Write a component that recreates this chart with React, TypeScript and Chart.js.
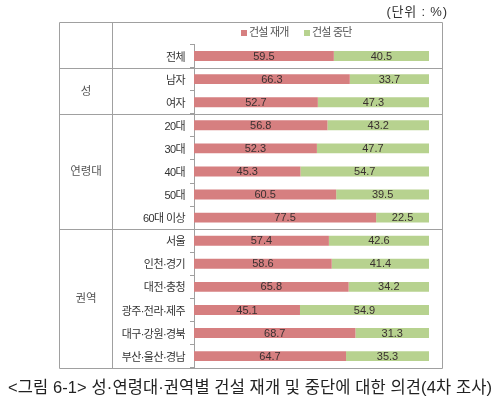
import React, { useEffect, useRef } from "react";
import { Chart, registerables } from "chart.js";

Chart.register(...registerables);

const categories = [
  "전체",
  "남자",
  "여자",
  "20대",
  "30대",
  "40대",
  "50대",
  "60대 이상",
  "서울",
  "인천·경기",
  "대전·충청",
  "광주·전라·제주",
  "대구·강원·경북",
  "부산·울산·경남",
];
const resumeValues = [59.5, 66.3, 52.7, 56.8, 52.3, 45.3, 60.5, 77.5, 57.4, 58.6, 65.8, 45.1, 68.7, 64.7];
const stopValues = [40.5, 33.7, 47.3, 43.2, 47.7, 54.7, 39.5, 22.5, 42.6, 41.4, 34.2, 54.9, 31.3, 35.3];
const seriesNames = ["건설 재개", "건설 중단"];
const groupLabels = ["", "성", "연령대", "권역"];
const groupStarts = [0, 1, 3, 8];
const groupEnds = [0, 2, 7, 13];
const unitText = "(단위 : %)";
const captionText = "<그림 6-1> 성·연령대·권역별 건설 재개 및 중단에 대한 의견(4차 조사)";

const RED = "#D67F80";
const GREEN = "#B7D28F";
const LINE = "#A0A0A0";
const KR = "'Liberation Sans', 'Noto Sans CJK KR', sans-serif";
const NUM = "'Liberation Sans', Arial, sans-serif";

const drawSpaced = (ctx: any, text: string, x: number, y: number, spacing: number, align: string) => {
  ctx.letterSpacing = `${spacing}px`;
  const w = ctx.measureText(text).width - spacing;
  let sx = x;
  if (align === "center") sx = x - w / 2;
  else if (align === "right") sx = x - w;
  ctx.textAlign = "left";
  ctx.fillText(text, sx, y);
  ctx.letterSpacing = "0px";
};

const tablePlugin = {
  id: "tableDecor",
  beforeDraw(chart: any) {
    // tighten the category tick labels (drawn before the datasets)
    chart.ctx.letterSpacing = "-0.6px";
  },
  beforeDatasetsDraw(chart: any) {
    chart.ctx.letterSpacing = "0px";
  },
  afterDatasetsDraw(chart: any) {
    const ctx = chart.ctx;
    ctx.save();
    ctx.letterSpacing = "0px";
    ctx.fillStyle = "#3a3030";
    ctx.font = `11px ${NUM}`;
    ctx.textAlign = "center";
    ctx.textBaseline = "middle";
    chart.data.datasets.forEach((ds: any, di: number) => {
      const meta = chart.getDatasetMeta(di);
      meta.data.forEach((el: any, i: number) => {
        const v = ds.data[i];
        const cx = (el.x + el.base) / 2;
        ctx.fillText(v.toFixed(1), cx, el.y + 0.5);
      });
    });
    ctx.restore();
  },
  afterDraw(chart: any) {
    const ctx = chart.ctx;
    const y = chart.scales.y;
    const area = chart.chartArea;
    const left = 59.5;
    const right = 442.5;
    const colX = 112.5;
    const top = 22.5;
    const bottom = Math.round(area.bottom) + 0.5;
    const boundary = (i: number) =>
      Math.round((y.getPixelForValue(i - 1) + y.getPixelForValue(i)) / 2) + 0.5;

    ctx.save();
    ctx.letterSpacing = "0px";
    ctx.strokeStyle = LINE;
    ctx.lineWidth = 1;
    ctx.beginPath();
    ctx.rect(left, top, right - left, bottom - top);
    ctx.moveTo(colX, top);
    ctx.lineTo(colX, bottom);
    for (let g = 1; g < groupStarts.length; g++) {
      const by = boundary(groupStarts[g]);
      ctx.moveTo(left, by);
      ctx.lineTo(right, by);
    }
    ctx.stroke();

    // group labels
    ctx.fillStyle = "#555";
    ctx.font = `11.5px ${KR}`;
    ctx.textBaseline = "middle";
    for (let g = 0; g < groupLabels.length; g++) {
      if (!groupLabels[g]) continue;
      const t = groupStarts[g] === 0 ? top : boundary(groupStarts[g]);
      const b = groupEnds[g] === categories.length - 1 ? bottom : boundary(groupEnds[g] + 1);
      drawSpaced(ctx, groupLabels[g], (left + colX) / 2, (t + b) / 2, 0, "center");
    }

    // legend
    const legendY = 33;
    const colors = [RED, GREEN];
    const legendX = [241, 304];
    ctx.font = `11px ${KR}`;
    for (let s = 0; s < seriesNames.length; s++) {
      ctx.fillStyle = colors[s];
      ctx.fillRect(legendX[s], legendY - 3, 6, 6);
      ctx.fillStyle = "#555";
      drawSpaced(ctx, seriesNames[s], legendX[s] + 8, legendY, -0.8, "left");
    }

    // unit
    ctx.fillStyle = "#333";
    ctx.font = `13px ${KR}`;
    drawSpaced(ctx, unitText, 447, 12, 0.8, "right");

    // caption, spread to the reference's width
    ctx.fillStyle = "#222";
    ctx.font = `16.5px ${KR}`;
    const plain = ctx.measureText(captionText).width;
    const n = Array.from(captionText).length;
    const spacing = (484 - plain) / (n - 1);
    drawSpaced(ctx, captionText, 250, 388, spacing, "center");
    ctx.restore();
  },
};

export default function App() {
  const ref = useRef<HTMLCanvasElement | null>(null);
  useEffect(() => {
    if (!ref.current) return;
    const chart = new Chart(ref.current, {
      type: "bar",
      data: {
        labels: categories,
        datasets: [
          {
            label: seriesNames[0],
            data: resumeValues,
            backgroundColor: RED,
            barPercentage: 0.43,
            categoryPercentage: 1,
          },
          {
            label: seriesNames[1],
            data: stopValues,
            backgroundColor: GREEN,
            barPercentage: 0.43,
            categoryPercentage: 1,
          },
        ],
      },
      options: {
        indexAxis: "y",
        animation: false,
        responsive: true,
        maintainAspectRatio: false,
        layout: { padding: { top: 44.5, bottom: 42.3, left: 0, right: 71 } },
        plugins: {
          legend: { display: false },
          tooltip: { enabled: false },
          title: { display: false },
        },
        scales: {
          x: { display: false, stacked: true, min: 0, max: 100 },
          y: {
            stacked: true,
            afterFit: (scale: any) => {
              scale.width = 194;
            },
            border: { display: true, color: LINE, width: 1 },
            grid: { drawOnChartArea: false, tickLength: 4, color: LINE, offset: true },
            ticks: { padding: 5, labelOffset: 1.5, color: "#333", font: { family: KR, size: 11 } },
          },
        },
      } as any,
      plugins: [tablePlugin],
    });
    return () => chart.destroy();
  }, []);
  return (
    <div style={{ position: "absolute", left: 0, top: 0, width: 500, height: 410, background: "#fff" }}>
      <canvas ref={ref} />
    </div>
  );
}
